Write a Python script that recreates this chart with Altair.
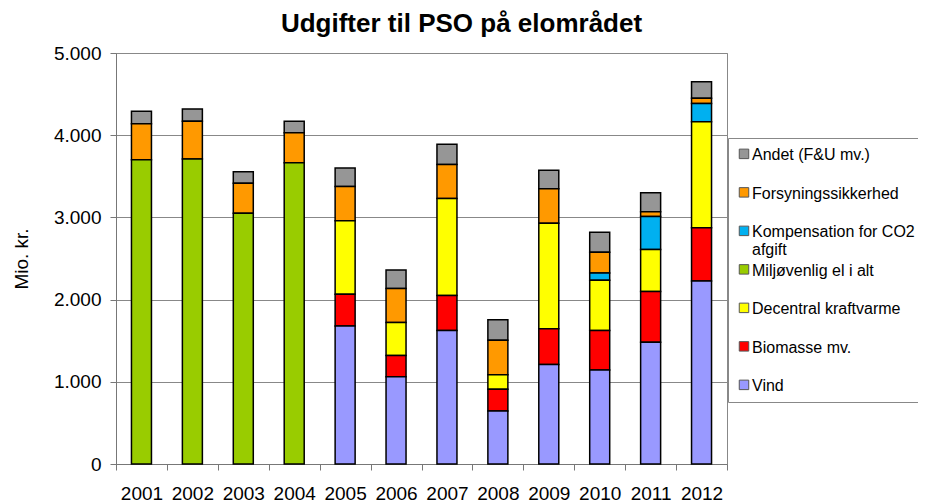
import altair as alt
import pandas as pd

years = [str(y) for y in range(2001, 2013)]

# legend order (top to bottom)
categories = [
    "Andet (F&U mv.)",
    "Forsyningssikkerhed",
    "Kompensation for CO2\nafgift",
    "Miljøvenlig el i alt",
    "Decentral kraftvarme",
    "Biomasse mv.",
    "Vind",
]
colors = ["#969696", "#FF9900", "#00B0F0", "#99CC00", "#FFFF00", "#FF0000", "#9999FF"]

andet = [150, 150, 140, 140, 225, 225, 245, 250, 225, 245, 230, 200]
forsyning = [440, 460, 365, 365, 415, 415, 415, 420, 420, 250, 60, 65]
kompensation = [0, 0, 0, 0, 0, 0, 0, 0, 0, 90, 400, 220]
miljo = [3700, 3710, 3050, 3665, 0, 0, 0, 0, 0, 0, 0, 0]
decentral = [0, 0, 0, 0, 895, 400, 1180, 175, 1285, 610, 510, 1290]
biomasse = [0, 0, 0, 0, 385, 260, 425, 265, 435, 480, 620, 650]
vind = [0, 0, 0, 0, 1680, 1060, 1625, 645, 1210, 1145, 1480, 2225]

series = [andet, forsyning, kompensation, miljo, decentral, biomasse, vind]

rows = []
for ci, (cat, vals) in enumerate(zip(categories, series)):
    for y, v in zip(years, vals):
        if v > 0:
            rows.append({"year": y, "cat": cat, "value": v, "stack": len(categories) - 1 - ci})
df = pd.DataFrame(rows)

# square legend symbol, shifted down so it sits beside the first text line
legend_square = "M-1,0.45H1V2.45H-1Z"

bars = alt.Chart(df).mark_bar(size=20, stroke="black", strokeWidth=1.5).encode(
    x=alt.X(
        "year:N",
        title=None,
        scale=alt.Scale(paddingInner=0, paddingOuter=0),
        axis=alt.Axis(
            labelAngle=0,
            labelFontSize=19,
            labelPadding=14,
            tickBand="extent",
            tickSize=6,
            tickColor="#777",
            domainColor="#777",
            labelColor="black",
            grid=False,
        ),
    ),
    y=alt.Y(
        "sum(value):Q",
        title="Mio. kr.",
        scale=alt.Scale(domain=[0, 5000]),
        axis=alt.Axis(
            values=[0, 1000, 2000, 3000, 4000, 5000],
            labelExpr="replace(format(datum.value, ','), ',', '.')",
            labelFontSize=19,
            labelPadding=9,
            tickSize=6,
            tickColor="#777",
            domainColor="#777",
            gridColor="#888",
            gridWidth=1,
            titleFontSize=19,
            titleFontWeight="normal",
            titlePadding=22,
            labelColor="black",
            titleColor="black",
        ),
    ),
    color=alt.Color(
        "cat:N",
        scale=alt.Scale(domain=categories, range=colors),
        legend=alt.Legend(
            title=None,
            orient="none",
            legendX=612,
            legendY=85,
            padding=8,
            strokeColor="#888",
            fillColor="white",
            labelFontSize=16,
            labelColor="black",
            labelLimit=300,
            labelBaseline="top",
            labelOffset=0,
            symbolType=legend_square,
            symbolSize=90,
            symbolStrokeColor="#555",
            symbolStrokeWidth=1,
            symbolOpacity=1,
            rowPadding=3.5,
            clipHeight=2,
            gridAlign="all",
            labelExpr="split(datum.label, '\\n')",
        ),
    ),
    order=alt.Order("stack:Q", sort="ascending"),
)

chart = bars.properties(
    width=611,
    height=411,
    title=alt.TitleParams(
        "Udgifter til PSO på elområdet",
        fontSize=26,
        fontWeight="bold",
        color="black",
        dx=40,
        offset=7,
    ),
    autosize=alt.AutoSizeParams(type="none"),
    padding={"left": 108, "top": 45, "right": 191, "bottom": 39},
).configure(font="Liberation Sans").configure_axisY(
    titleFontSize=19, titleFontWeight="normal"
).configure_view(stroke="#888", strokeWidth=1)

chart.save("out.html", embed_options={"renderer": "svg", "actions": False})
